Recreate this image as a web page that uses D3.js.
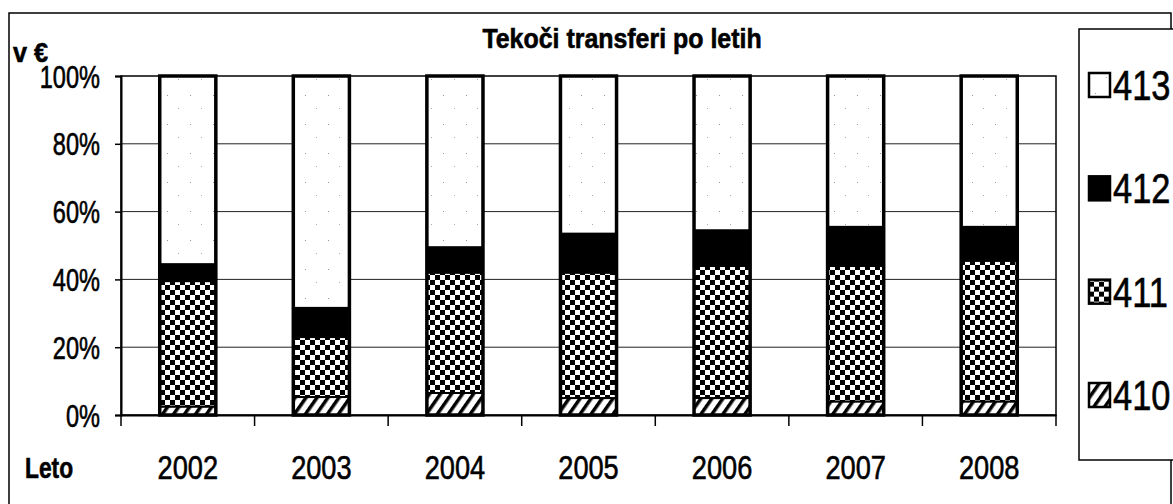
<!DOCTYPE html>
<html>
<head>
<meta charset="utf-8">
<script src="https://cdn.jsdelivr.net/npm/d3@7"></script>
<style>
  html, body { margin: 0; padding: 0; background: #fff; }
  svg { display: block; }
  text { font-family: "Liberation Sans", Arial, sans-serif; fill: #000; stroke: #000; stroke-width: 0.6px; }
</style>
</head>
<body>
<div id="chart"></div>
<script>
// Data (shares per year, in %)
const years = ['2002', '2003', '2004', '2005', '2006', '2007', '2008'];
const seriesKeys = ['410', '411', '412', '413'];
const s410 = [2.5, 5.3, 6.5, 5, 5, 4, 4];
const s411 = [37, 17.7, 35.5, 37, 39, 40, 41.5];
const s412 = [5, 8.6, 7.5, 11.5, 10.5, 11.5, 10];
const s413 = [55.5, 68.4, 50.5, 46.5, 45.5, 44.5, 44.5];
const yTicks = [0, 0.2, 0.4, 0.6, 0.8, 1];
const legendOrder = ['413', '412', '411', '410'];

const width = 1173, height = 504;
const plot = { left: 121, right: 1056, top: 76, bottom: 415 };

const rows = years.map((y, i) => ({ year: y, '410': s410[i], '411': s411[i], '412': s412[i], '413': s413[i] }));
const stacked = d3.stack().keys(seriesKeys).offset(d3.stackOffsetExpand)(rows);

const svg = d3.select('#chart').append('svg')
    .attr('width', width)
    .attr('height', height);

// Narrow-looking text: regular font squeezed horizontally
function narrowText(parent, x, y, sx, str, size, bold, anchor) {
    return parent.append('text')
        .attr('transform', `translate(${x},${y}) scale(${sx},1)`)
        .attr('text-anchor', anchor || 'start')
        .attr('font-size', size)
        .attr('font-weight', bold ? 'bold' : null)
        .text(str);
}

// Patterns
const defs = svg.append('defs');

const checker = defs.append('pattern')
    .attr('id', 'p411')
    .attr('patternUnits', 'userSpaceOnUse')
    .attr('width', 10).attr('height', 10);
checker.append('rect').attr('width', 10).attr('height', 10).attr('fill', '#fff');
checker.append('rect').attr('width', 5).attr('height', 5).attr('fill', '#000');
checker.append('rect').attr('x', 5).attr('y', 5).attr('width', 5).attr('height', 5).attr('fill', '#000');

const hatch = defs.append('pattern')
    .attr('id', 'p410')
    .attr('patternUnits', 'userSpaceOnUse')
    .attr('width', 9).attr('height', 9)
    .attr('patternTransform', 'rotate(35)');
hatch.append('rect').attr('width', 9).attr('height', 9).attr('fill', '#fff');
hatch.append('rect').attr('width', 3.5).attr('height', 9).attr('fill', '#000');

const dots = defs.append('pattern')
    .attr('id', 'p413')
    .attr('patternUnits', 'userSpaceOnUse')
    .attr('width', 23).attr('height', 29);
dots.append('rect').attr('width', 23).attr('height', 29).attr('fill', '#fff');
dots.append('rect').attr('x', 6).attr('y', 8).attr('width', 1).attr('height', 1).attr('fill', '#999');
dots.append('rect').attr('x', 17).attr('y', 21).attr('width', 1).attr('height', 1).attr('fill', '#aaa');

const fills = { '410': 'url(#p410)', '411': 'url(#p411)', '412': '#000', '413': 'url(#p413)' };

// Outer frame
svg.append('rect')
    .attr('x', 9).attr('y', 13)
    .attr('width', 1162).attr('height', 500)
    .attr('fill', 'none')
    .attr('stroke', '#000')
    .attr('stroke-width', 1.5);

// Scales
const x = d3.scaleBand()
    .domain(years)
    .range([plot.left, plot.right])
    .paddingInner(0.58)
    .paddingOuter(0.29);

const y = d3.scaleLinear()
    .domain([0, 1])
    .range([plot.bottom, plot.top]);

// Gridlines
svg.append('g')
    .selectAll('line')
    .data(yTicks.filter(t => t > 0 && t < 1))
    .join('line')
    .attr('x1', plot.left).attr('x2', plot.right)
    .attr('y1', d => y(d)).attr('y2', d => y(d))
    .attr('stroke', '#222')
    .attr('stroke-width', 1);

// Plot border
svg.append('rect')
    .attr('x', plot.left).attr('y', plot.top)
    .attr('width', plot.right - plot.left)
    .attr('height', plot.bottom - plot.top)
    .attr('fill', 'none')
    .attr('stroke', '#000')
    .attr('stroke-width', 1.5);

// Y axis
const yAxis = svg.append('g')
    .attr('transform', `translate(${plot.left},0)`)
    .call(d3.axisLeft(y).tickValues(yTicks).tickFormat(d3.format('.0%')).tickSize(6));
yAxis.select('.domain').attr('stroke', '#000').attr('stroke-width', 2);
yAxis.selectAll('.tick line').attr('stroke', '#000').attr('stroke-width', 1.5);
yAxis.selectAll('.tick text')
    .attr('x', 0)
    .attr('dy', '0.36em')
    .attr('font-family', '"Liberation Sans", Arial, sans-serif')
    .attr('font-size', 31)
    .attr('transform', 'translate(-21,0) scale(0.76,1)');

// X axis: labels centred under the bars, ticks on category boundaries
const xAxis = svg.append('g')
    .attr('transform', `translate(0,${plot.bottom})`)
    .call(d3.axisBottom(x).tickSize(0).tickPadding(40));
xAxis.select('.domain').attr('stroke', '#000').attr('stroke-width', 2);
xAxis.selectAll('.tick text')
    .attr('font-family', '"Liberation Sans", Arial, sans-serif')
    .attr('font-size', 34)
    .attr('transform', 'scale(0.8,1)');

const boundaries = d3.range(years.length + 1).map(i => plot.left + i * x.step());
svg.append('g')
    .selectAll('line')
    .data(boundaries)
    .join('line')
    .attr('x1', d => d).attr('x2', d => d)
    .attr('y1', plot.bottom).attr('y2', plot.bottom + 11)
    .attr('stroke', '#000')
    .attr('stroke-width', 1.5);

// Stacked bars
svg.append('g')
    .selectAll('g')
    .data(stacked)
    .join('g')
    .attr('fill', d => fills[d.key])
    .selectAll('rect')
    .data(d => d)
    .join('rect')
    .attr('x', d => x(d.data.year))
    .attr('y', d => y(d[1]))
    .attr('width', x.bandwidth())
    .attr('height', d => y(d[0]) - y(d[1]))
    .attr('stroke', '#000')
    .attr('stroke-width', 2);

// Bar outlines
svg.append('g')
    .selectAll('rect')
    .data(years)
    .join('rect')
    .attr('x', d => x(d))
    .attr('y', y(1))
    .attr('width', x.bandwidth())
    .attr('height', y(0) - y(1))
    .attr('fill', 'none')
    .attr('stroke', '#000')
    .attr('stroke-width', 3.5);

// Title and axis captions
narrowText(svg, 622, 48, 0.89, 'Tekoči transferi po letih', 28, true, 'middle');
narrowText(svg, 13, 62, 0.9, 'v €', 28, true);
narrowText(svg, 25, 478, 0.76, 'Leto', 30, true);

// Legend
const legend = svg.append('g');
legend.append('rect')
    .attr('x', 1079).attr('y', 29)
    .attr('width', 120).attr('height', 431)
    .attr('fill', '#fff')
    .attr('stroke', '#000')
    .attr('stroke-width', 1.5);

const legendY = d3.scalePoint().domain(legendOrder).range([85, 395]);

const item = legend.selectAll('g.item')
    .data(legendOrder)
    .join('g')
    .attr('class', 'item')
    .attr('transform', d => `translate(1089,${legendY(d)})`);

item.append('rect')
    .attr('x', 0).attr('y', -12)
    .attr('width', 21).attr('height', 24)
    .attr('fill', d => fills[d])
    .attr('stroke', '#000')
    .attr('stroke-width', 2.5);

item.append('text')
    .attr('transform', 'translate(24,0) scale(0.82,1)')
    .attr('dy', '0.36em')
    .attr('font-size', 42)
    .text(d => d);
</script>
</body>
</html>
